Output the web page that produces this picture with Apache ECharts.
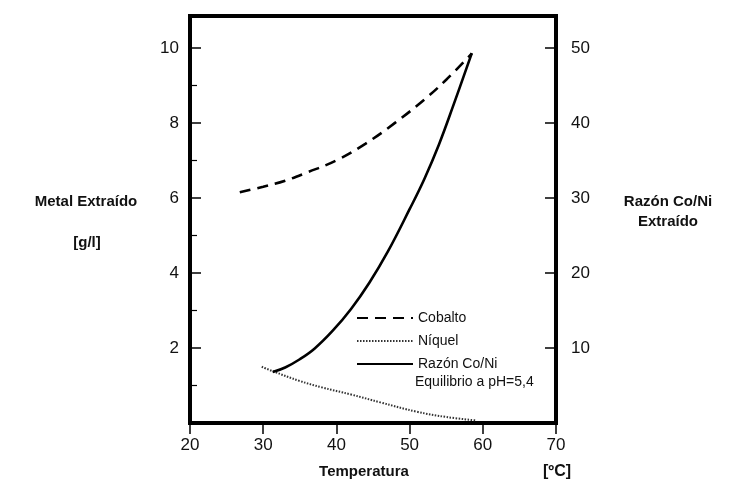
<!DOCTYPE html>
<html>
<head>
<meta charset="utf-8">
<script src="https://cdn.jsdelivr.net/npm/echarts@6/dist/echarts.min.js"></script>
<style>
  html, body { margin: 0; padding: 0; background: #fff; }
  #chart { width: 739px; height: 486px; }
</style>
</head>
<body>
<div id="chart"></div>
<script>
  // datos: [temperatura, valor]
  const cobalto = [[26.8, 6.15], [30, 6.3], [33, 6.46], [36, 6.68], [40, 7.0], [44, 7.45], [48, 8.0], [52, 8.62], [55, 9.15], [58.5, 9.85]];
  const niquel = [[29.8, 1.5], [31.3, 1.38], [35, 1.12], [38, 0.95], [42, 0.76], [46, 0.55], [51, 0.3], [55, 0.16], [59, 0.07]];
  const razon = [[31.3, 6.8], [33, 7.4], [35, 8.5], [37, 9.9], [39.5, 12.3], [42, 15.2], [44.5, 18.7], [47, 22.8], [50, 28.5], [52, 32.5], [54, 37.1], [56, 42.4], [58.5, 49.3]];
  const nombres = ['Cobalto', 'Níquel', 'Razón Co/Ni'];

  const font = 'Liberation Sans, Arial, sans-serif';
  let myChart = echarts.init(document.getElementById('chart'));

  myChart.setOption({
    animation: false,
    backgroundColor: '#fff',
    grid: {
      left: 190,
      right: 183,
      top: 16,
      bottom: 63,
      show: true,
      borderColor: '#000',
      borderWidth: 4,
      backgroundColor: 'transparent'
    },
    xAxis: {
      type: 'value',
      min: 20,
      max: 70,
      interval: 10,
      axisLine: { show: false },
      axisTick: { show: true, length: 11, lineStyle: { color: '#000', width: 1.5 } },
      splitLine: { show: false },
      axisLabel: { color: '#111', fontSize: 17, fontFamily: font, margin: 14 }
    },
    yAxis: [
      {
        type: 'value',
        min: 0,
        max: 10.85,
        interval: 2,
        axisLine: { show: false },
        axisTick: { show: true, inside: true, length: 11, lineStyle: { color: '#000', width: 1.5 } },
        minorTick: { show: true, splitNumber: 2, length: 7, lineStyle: { color: '#000', width: 1.2 } },
        splitLine: { show: false },
        axisLabel: {
          color: '#111', fontSize: 17, fontFamily: font, margin: 11,
          showMinLabel: false, showMaxLabel: false
        }
      },
      {
        type: 'value',
        min: 0,
        max: 54.25,
        interval: 10,
        position: 'right',
        axisLine: { show: false },
        axisTick: { show: true, inside: true, length: 11, lineStyle: { color: '#000', width: 1.5 } },
        splitLine: { show: false },
        axisLabel: {
          color: '#111', fontSize: 17, fontFamily: font, margin: 15,
          showMinLabel: false, showMaxLabel: false
        }
      }
    ],
    legend: {
      orient: 'vertical',
      left: 351,
      top: 306,
      itemWidth: 56,
      itemHeight: 14,
      itemGap: 9,
      data: nombres,
      itemStyle: { opacity: 0 },
      textStyle: { color: '#111', fontSize: 14, fontFamily: font }
    },
    graphic: [
      { type: 'text', x: 415, y: 375, style: { text: 'Equilibrio a pH=5,4', fill: '#111', font: '14px ' + font } },
      { type: 'text', x: 86, y: 202, style: { text: 'Metal Extraído', fill: '#111', font: 'bold 15px ' + font, textAlign: 'center', textVerticalAlign: 'middle' } },
      { type: 'text', x: 87, y: 243, style: { text: '[g/l]', fill: '#111', font: 'bold 15px ' + font, textAlign: 'center', textVerticalAlign: 'middle' } },
      { type: 'text', x: 668, y: 202, style: { text: 'Razón Co/Ni', fill: '#111', font: 'bold 15px ' + font, textAlign: 'center', textVerticalAlign: 'middle' } },
      { type: 'text', x: 668, y: 222, style: { text: 'Extraído', fill: '#111', font: 'bold 15px ' + font, textAlign: 'center', textVerticalAlign: 'middle' } },
      { type: 'text', x: 364, y: 472, style: { text: 'Temperatura', fill: '#111', font: 'bold 15px ' + font, textAlign: 'center', textVerticalAlign: 'middle' } },
      { type: 'text', x: 557, y: 472, style: { text: '[ºC]', fill: '#111', font: 'bold 16px ' + font, textAlign: 'center', textVerticalAlign: 'middle' } }
    ],
    series: [
      {
        name: 'Cobalto',
        type: 'line',
        yAxisIndex: 0,
        data: cobalto,
        smooth: 0.4,
        symbol: 'none',
        lineStyle: { color: '#000', width: 2.6, type: [11, 7] },
        itemStyle: { color: '#000' }
      },
      {
        name: 'Níquel',
        type: 'line',
        yAxisIndex: 0,
        data: niquel,
        smooth: 0.4,
        symbol: 'none',
        lineStyle: { color: '#333', width: 2, type: [1.5, 1.5] },
        itemStyle: { color: '#333' }
      },
      {
        name: 'Razón Co/Ni',
        type: 'line',
        yAxisIndex: 1,
        data: razon,
        smooth: 0.4,
        symbol: 'none',
        lineStyle: { color: '#000', width: 2.6 },
        itemStyle: { color: '#000' }
      }
    ]
  });

  // ajuste al cambiar el tamaño
  window.onresize = function () {
    myChart.resize();
  };
</script>
</body>
</html>
